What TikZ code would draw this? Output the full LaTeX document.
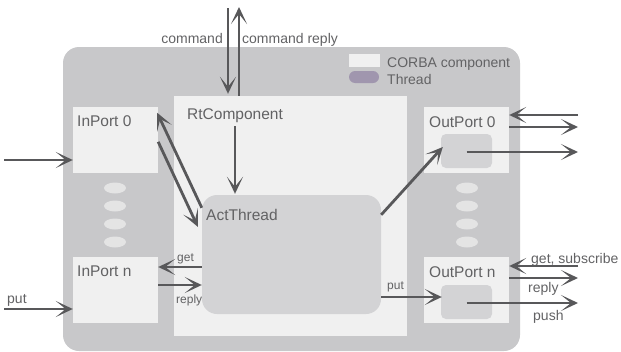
\documentclass[tikz,border=0pt]{standalone}
\usepackage{fontspec}
\setmainfont{Liberation Sans}
\usetikzlibrary{arrows.meta,calc,shapes.geometric}
\definecolor{outerc}{HTML}{C8C8CA}
\definecolor{panelc}{HTML}{F0F0F0}
\definecolor{threadc}{HTML}{D3D3D5}
\definecolor{dotc}{HTML}{E4E4E4}
\definecolor{pillc}{HTML}{A096AE}
\definecolor{arrc}{HTML}{58585A}
\definecolor{txtc}{HTML}{626264}
\begin{document}
\begin{tikzpicture}[x=1pt,y=-1pt,
  panel/.style={fill=panelc, draw=none, inner sep=0pt},
  port/.style={panel, minimum width=85pt, minimum height=66pt},
  inbox/.style={fill=threadc, draw=none, rounded corners=5pt, minimum width=51pt, minimum height=34pt, inner sep=0pt},
  dot/.style={ellipse, fill=dotc, draw=none, minimum width=22pt, minimum height=11pt, inner sep=0pt},
  arr/.style={draw=arrc, line width=2.8pt, -{Stealth[length=17pt,width=16pt,inset=10pt]}},
  big/.style={text=txtc, font=\fontsize{15.5}{16}\selectfont, anchor=base west, inner sep=0pt},
  mid/.style={text=txtc, font=\fontsize{14}{15}\selectfont, anchor=base west, inner sep=0pt},
  small/.style={text=txtc, font=\fontsize{12}{13}\selectfont, anchor=base west, inner sep=0pt}
]
\useasboundingbox (0,0) rectangle (621,351);
% containers
\node[fill=outerc, draw=none, rounded corners=16pt, minimum width=457pt, minimum height=304pt, inner sep=0pt] (outer) at (291.5,199) {};
\node[panel, minimum width=233pt, minimum height=240pt] (rt) at (290.5,216) {};
\node[port] (inp0) at (115.5,140) {};
\node[port] (inpn) at (115.5,290) {};
\node[port] (outp0) at (466.5,140) {};
\node[port] (outpn) at (466.5,290) {};
\node[inbox] (ob0) at (466.5,151) {};
\node[inbox] (obn) at (466.5,302) {};
\node[fill=threadc, draw=none, rounded corners=15pt, minimum width=179pt, minimum height=119pt, inner sep=0pt] (act) at (291.5,254.5) {};
% dots
\foreach \i/\y in {1/188,2/206,3/224,4/242}{
  \node[dot] (dl\i) at (115,\y) {};
  \node[dot] (dr\i) at (467,\y) {};
}
% legend
\node[panel, minimum width=31pt, minimum height=13pt] (legc) at (364.5,60.5) {};
\node[fill=pillc, draw=none, rounded corners=6pt, minimum width=30pt, minimum height=12pt, inner sep=0pt] (legt) at (364,77) {};
\node[mid] (legctxt) at (387,67) {CORBA component};
\node[mid] (legttxt) at (387,84) {Thread};
% labels
\node[big] (lrt) at (187,119) {RtComponent};
\node[big] (lact) at (206,220) {ActThread};
\node[big] (lin0) at (77,126) {InPort 0};
\node[big] (linn) at (77,276) {InPort n};
\node[big] (lout0) at (429,127) {OutPort 0};
\node[big] (loutn) at (429,277) {OutPort n};
\node[mid, anchor=base east] (lcmd) at (223,43) {command};
\node[mid] (lcmdr) at (242,43) {command reply};
\node[small] (lget) at (177,261) {get};
\node[small] (lrep) at (176,303) {reply};
\node[mid] (lput) at (7,303) {put};
\node[small] (lput2) at (387,289) {put};
\node[mid] (lgs) at (531,263) {get, subscribe};
\node[mid] (lrep2) at (528,292) {reply};
\node[mid] (lpush) at (533,320) {push};
% free ends
\coordinate (cmdtop) at (228,8);
\coordinate (reptop) at (239,7);
\coordinate (rtsrc) at (235,126);
\coordinate (lin0src) at (4,160);
\coordinate (putsrc) at (4,309);
\coordinate (o0in) at (578,115);
\coordinate (o0out) at (578,127);
\coordinate (o0push) at (578,152);
\coordinate (oning) at (578,266);
\coordinate (onrep) at (578,278);
\coordinate (onpush) at (578,303);
% arrows
\draw[arr, shorten >=2pt] (cmdtop) -- (rt.north -| cmdtop);
\draw[arr] (rt.north -| reptop) -- (reptop);
\draw[arr, shorten >=1pt] (rtsrc) -- (act.north -| rtsrc);
\draw[arr] ($(act.north west)+(0,13)$) -- ($(inp0.north east)+(-1,6)$);
\draw[arr] ($(inp0.north east)+(0,35)$) -- ($(act.north west)+(-4,32)$);
\draw[arr] (act.west |- 0,267) -- (inpn.east |- 0,267);
\draw[arr] (inpn.east |- 0,285) -- (act.west |- 0,285);
\draw[arr] (lin0src) -- (inp0.west |- lin0src);
\draw[arr] (putsrc) -- (inpn.west |- putsrc);
\draw[arr] ($(act.north east)+(0,20)$) -- ($(ob0.west)+(2,-4)$);
\draw[arr] (act.east |- 0,297) -- ($(obn.west |- 0,297)+(1,0)$);
\draw[arr] (o0in) -- (outp0.east |- o0in);
\draw[arr] (outp0.east |- o0out) -- (o0out);
\draw[arr] (ob0.center |- o0push) -- (o0push);
\draw[arr] (oning) -- (outpn.east |- oning);
\draw[arr] (outpn.east |- onrep) -- (onrep);
\draw[arr] (obn.center |- onpush) -- (onpush);
\end{tikzpicture}
\end{document}
